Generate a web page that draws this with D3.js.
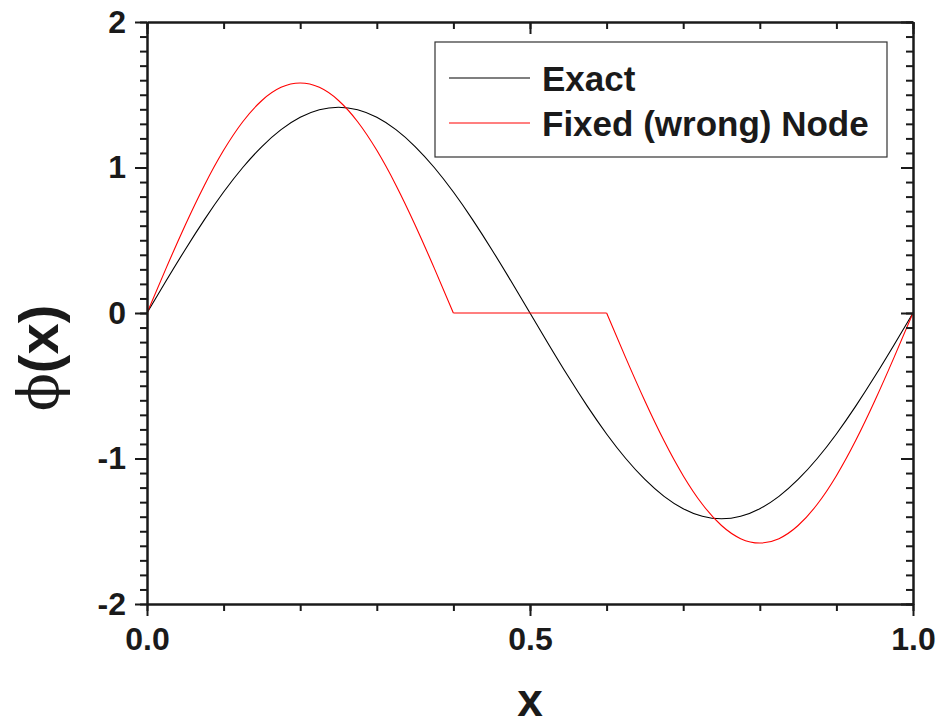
<!DOCTYPE html>
<html>
<head>
<meta charset="utf-8">
<script src="https://cdn.jsdelivr.net/npm/d3@7"></script>
<style>
    body { margin: 0; background: #fff; }
    svg { display: block; font-family: "Liberation Sans", Arial, sans-serif; }
    .axis text { font-weight: bold; font-size: 32px; fill: #1a1a1a; }
    .axis path, .axis line { stroke: #1a1a1a; stroke-width: 2; }
</style>
</head>
<body>
<svg id="chart"></svg>
<script>
// sample positions along x
const xVals = [0, 0.025, 0.05, 0.075, 0.1, 0.125, 0.15, 0.175, 0.2, 0.225,
    0.25, 0.275, 0.3, 0.325, 0.35, 0.375, 0.4, 0.425, 0.45, 0.475,
    0.5, 0.525, 0.55, 0.575, 0.6, 0.625, 0.65, 0.675, 0.7, 0.725,
    0.75, 0.775, 0.8, 0.825, 0.85, 0.875, 0.9, 0.925, 0.95, 0.975, 1];

// "Exact" curve
const exactY = [0, 0.2212, 0.4370, 0.6420, 0.8313, 1.0000, 1.1441, 1.2601, 1.3450, 1.3968,
    1.4142, 1.3968, 1.3450, 1.2601, 1.1441, 1.0000, 0.8313, 0.6420, 0.4370, 0.2212,
    0, -0.2212, -0.4370, -0.6420, -0.8313, -1.0000, -1.1441, -1.2601, -1.3450, -1.3968,
    -1.4142, -1.3968, -1.3450, -1.2601, -1.1441, -1.0000, -0.8313, -0.6420, -0.4370, -0.2212, 0];

// "Fixed (wrong) Node" curve
const fixedY = [0, 0.3085, 0.6050, 0.8784, 1.1180, 1.3146, 1.4607, 1.5507, 1.5811, 1.5507,
    1.4607, 1.3146, 1.1180, 0.8784, 0.6050, 0.3085, 0, 0, 0, 0,
    0, 0, 0, 0, 0, -0.3085, -0.6050, -0.8784, -1.1180, -1.3146,
    -1.4607, -1.5507, -1.5811, -1.5507, -1.4607, -1.3146, -1.1180, -0.8784, -0.6050, -0.3085, 0];

// the flat part of the red curve, between the two sine pieces
const fixedBreaks = [0.4, 0.6];

const xTicks = [0, 0.5, 1];
const yTicks = [-2, -1, 0, 1, 2];
const xMinor = d3.range(0, 11).map(i => i / 10);
const yMinor = d3.range(-20, 21).map(i => i / 10);

const legendItems = [
    {label: "Exact", color: "#000"},
    {label: "Fixed (wrong) Node", color: "#ff0000"}
];

const config = {
    width: 940,
    height: 727,
    left: 147,
    right: 913,
    top: 22,
    bottom: 604
};

const svg = d3.select("#chart")
    .attr("width", config.width)
    .attr("height", config.height);

const x = d3.scaleLinear().domain([0, 1]).range([config.left, config.right]);
const y = d3.scaleLinear().domain([-2, 2]).range([config.bottom, config.top]);

// curves
const exactData = xVals.map((v, i) => [v, exactY[i]]);
const fixedData = xVals.map((v, i) => [v, fixedY[i]]);

const smooth = d3.line().x(d => x(d[0])).y(d => y(d[1])).curve(d3.curveNatural);
const straight = d3.line().x(d => x(d[0])).y(d => y(d[1]));

svg.append("path")
    .attr("d", smooth(exactData))
    .attr("fill", "none")
    .attr("stroke", "#000")
    .attr("stroke-width", 1.1);

const pieces = [
    fixedData.filter(d => d[0] <= fixedBreaks[0]),
    fixedData.filter(d => d[0] >= fixedBreaks[0] && d[0] <= fixedBreaks[1]),
    fixedData.filter(d => d[0] >= fixedBreaks[1])
];
pieces.forEach((p, i) => {
    svg.append("path")
        .attr("d", i == 1 ? straight(p) : smooth(p))
        .attr("fill", "none")
        .attr("stroke", "#ff0000")
        .attr("stroke-width", 1.1);
});

// axes: minor ticks first, then majors with labels
function addAxis (axis, transform, labels) {
    const g = svg.append("g")
        .attr("class", "axis")
        .attr("transform", transform)
        .call(axis);
    if (!labels) g.selectAll("text").remove();
    return g;
}

const fmtX = d3.format(".1f");
const fmtY = d => String(d); // plain hyphen for negatives

addAxis(d3.axisBottom(x).tickValues(xMinor).tickSize(7).tickSizeOuter(0), `translate(0,${config.bottom})`, false);
addAxis(d3.axisBottom(x).tickValues(xTicks).tickSize(12).tickSizeOuter(0).tickPadding(11).tickFormat(fmtX), `translate(0,${config.bottom})`, true);
addAxis(d3.axisBottom(x).tickValues(xMinor).tickSize(7).tickSizeOuter(0), `translate(0,${config.top})`, false);
addAxis(d3.axisBottom(x).tickValues(xTicks).tickSize(12).tickSizeOuter(0), `translate(0,${config.top})`, false);

addAxis(d3.axisLeft(y).tickValues(yMinor).tickSize(7).tickSizeOuter(0), `translate(${config.left},0)`, false);
addAxis(d3.axisLeft(y).tickValues(yTicks).tickSize(12).tickSizeOuter(0).tickPadding(9).tickFormat(fmtY), `translate(${config.left},0)`, true);
addAxis(d3.axisLeft(y).tickValues(yMinor).tickSize(7).tickSizeOuter(0), `translate(${config.right},0)`, false);
addAxis(d3.axisLeft(y).tickValues(yTicks).tickSize(12).tickSizeOuter(0), `translate(${config.right},0)`, false);

// axis titles
svg.append("text")
    .attr("x", x(0.5))
    .attr("y", 716)
    .attr("text-anchor", "middle")
    .attr("font-weight", "bold")
    .attr("font-size", 46)
    .attr("fill", "#1a1a1a")
    .text("x");

const yTitle = svg.append("text")
    .attr("transform", "translate(58,358) rotate(-90)")
    .attr("text-anchor", "middle")
    .attr("font-weight", "bold")
    .attr("font-size", 56)
    .attr("fill", "#1a1a1a");
yTitle.append("tspan")
    .attr("font-family", "'DejaVu Serif', serif")
    .attr("font-weight", "normal")
    .text("\u03D5");
yTitle.append("tspan").text("(x)");

// legend
const legend = svg.append("g").attr("transform", "translate(435,42)");
legend.append("rect")
    .attr("width", 452)
    .attr("height", 115)
    .attr("fill", "#fff")
    .attr("stroke", "#333")
    .attr("stroke-width", 1.2);

const rows = legend.selectAll("g.row")
    .data(legendItems)
    .enter()
    .append("g")
    .attr("class", "row")
    .attr("transform", (d, i) => `translate(0,${36 + i * 45})`);

rows.append("line")
    .attr("x1", 14)
    .attr("x2", 95)
    .attr("stroke", d => d.color)
    .attr("stroke-width", 1.1);

rows.append("text")
    .attr("x", 107)
    .attr("y", 13)
    .attr("font-weight", "bold")
    .attr("font-size", 35)
    .attr("fill", "#1a1a1a")
    .text(d => d.label);
</script>
</body>
</html>
